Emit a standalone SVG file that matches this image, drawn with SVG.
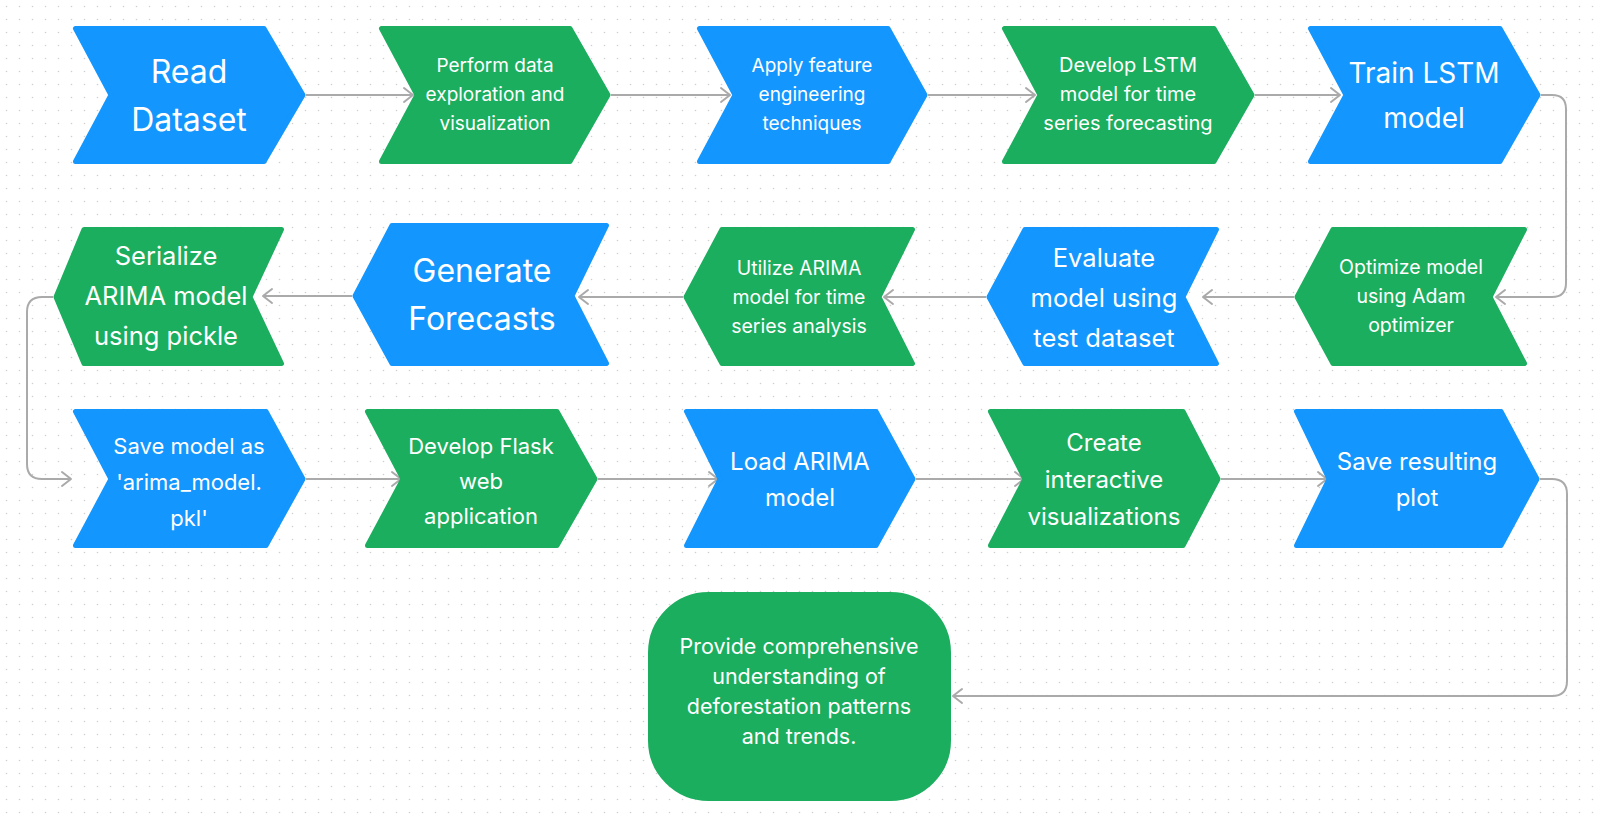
<svg xmlns="http://www.w3.org/2000/svg" width="1600" height="814" viewBox="0 0 1600 814">
<defs>
<pattern id="dots" width="13" height="13" patternUnits="userSpaceOnUse">
<circle cx="6.5" cy="6.5" r="0.8" fill="#cfcfcf"/>
</pattern>
<marker id="arr" markerUnits="userSpaceOnUse" markerWidth="14" markerHeight="18" refX="11" refY="9" orient="auto">
<path d="M2,2 L11,9 L2,16" fill="none" stroke="#aaaaaa" stroke-width="2" stroke-linecap="round" stroke-linejoin="round"/>
</marker>
<style>
.blue{fill:#1396fd;stroke:#1396fd;stroke-width:5;stroke-linejoin:round}
.green{fill:#1bae5e;stroke:#1bae5e;stroke-width:5;stroke-linejoin:round}
text{font-family:Inter,"Noto Sans","Liberation Sans",sans-serif;fill:#ffffff;text-anchor:middle}
.s19{font-size:19px}
.s195{font-size:19.5px}
.s20{font-size:20px}
.s21{font-size:21.5px}
.s22{font-size:22px}
.s24{font-size:24px}
.s25{font-size:25.5px}
.s28{font-size:28px}
.s32{font-size:32px}
.conn path{fill:none;stroke:#aaaaaa;stroke-width:2;marker-end:url(#arr)}
</style>
</defs>
<rect width="1600" height="814" fill="#ffffff"/>
<rect width="1600" height="814" fill="url(#dots)"/>

<g id="connectors" class="conn">
<path d="M306,95 H413"/>
<path d="M611,95 H730"/>
<path d="M928,95 H1035"/>
<path d="M1255,95 H1340"/>
<path d="M1541,95 H1552 Q1566,95 1566,109 V283 Q1566,297 1552,297 H1496"/>
<path d="M1294,297 H1203"/>
<path d="M986,297 H884"/>
<path d="M683,297 H579"/>
<path d="M352,296 H263"/>
<path d="M53,297 H42 Q27,297 27,312 V464 Q27,479 42,479 H71"/>
<path d="M306,479 H401"/>
<path d="M598,479 H718"/>
<path d="M916,479 H1024"/>
<path d="M1221,479 H1327"/>
<path d="M1540,479 H1552 Q1567,479 1567,494 V681 Q1567,696 1552,696 H953"/>
</g>

<g id="n1">
<path class="blue" d="M75.5,28.5 H264 L303,95 L264,161.5 H75.5 L111,95 Z"/>
<text class="s32"><tspan x="189" y="83">Read</tspan><tspan x="189" y="131">Dataset</tspan></text>
</g>
<g id="n2">
<path class="green" d="M381.5,28.5 H570 L608,95 L570,161.5 H381.5 L417,95 Z"/>
<text class="s19"><tspan x="495" y="72">Perform data</tspan><tspan x="495" y="101">exploration and</tspan><tspan x="495" y="130">visualization</tspan></text>
</g>
<g id="n3">
<path class="blue" d="M699.5,28.5 H888 L925,95 L888,161.5 H699.5 L735,95 Z"/>
<text class="s19"><tspan x="812" y="72">Apply feature</tspan><tspan x="812" y="101">engineering</tspan><tspan x="812" y="130">techniques</tspan></text>
</g>
<g id="n4">
<path class="green" d="M1004.5,28.5 H1214 L1252,95 L1214,161.5 H1004.5 L1040,95 Z"/>
<text class="s20"><tspan x="1128" y="72">Develop LSTM</tspan><tspan x="1128" y="101">model for time</tspan><tspan x="1128" y="130">series forecasting</tspan></text>
</g>
<g id="n5">
<path class="blue" d="M1310.5,28.5 H1500 L1538,95 L1500,161.5 H1310.5 L1346,95 Z"/>
<text class="s28"><tspan x="1424" y="83">Train LSTM</tspan><tspan x="1424" y="128">model</tspan></text>
</g>

<g id="n6">
<path class="green" d="M1297,297 L1333,229.5 H1524.5 L1490,297 L1524.5,363.5 H1333 Z"/>
<text class="s195"><tspan x="1411" y="274">Optimize model</tspan><tspan x="1411" y="303">using Adam</tspan><tspan x="1411" y="332">optimizer</tspan></text>
</g>
<g id="n7">
<path class="blue" d="M989,297 L1025,229.5 H1216.5 L1183,297 L1216.5,363.5 H1025 Z"/>
<text class="s25"><tspan x="1104" y="267">Evaluate</tspan><tspan x="1104" y="307">model using</tspan><tspan x="1104" y="347">test dataset</tspan></text>
</g>
<g id="n8">
<path class="green" d="M686,297 L722,229.5 H912.5 L879,297 L912.5,363.5 H722 Z"/>
<text class="s195"><tspan x="799" y="275">Utilize ARIMA</tspan><tspan x="799" y="304">model for time</tspan><tspan x="799" y="333">series analysis</tspan></text>
</g>
<g id="n9">
<path class="blue" d="M355,296 L392,225.5 H606.5 L572,296 L606.5,363.5 H392 Z"/>
<text class="s32"><tspan x="482" y="282">Generate</tspan><tspan x="482" y="330">Forecasts</tspan></text>
</g>
<g id="n10">
<path class="green" d="M56,297 L84,229.5 H281.5 L250,297 L281.5,363.5 H84 Z"/>
<text class="s25"><tspan x="166" y="265">Serialize</tspan><tspan x="166" y="305">ARIMA model</tspan><tspan x="166" y="345">using pickle</tspan></text>
</g>

<g id="n11">
<path class="blue" d="M75.5,411.5 H266 L303,479 L266,545.5 H75.5 L111,479 Z"/>
<text class="s22"><tspan x="189" y="454">Save model as</tspan><tspan x="189" y="490">'arima_model.</tspan><tspan x="189" y="526">pkl'</tspan></text>
</g>
<g id="n12">
<path class="green" d="M367.5,411.5 H557 L595,479 L557,545.5 H367.5 L403,479 Z"/>
<text class="s22"><tspan x="481" y="454">Develop Flask</tspan><tspan x="481" y="489">web</tspan><tspan x="481" y="524">application</tspan></text>
</g>
<g id="n13">
<path class="blue" d="M686.5,411.5 H876 L913,479 L876,545.5 H686.5 L720,479 Z"/>
<text class="s24"><tspan x="800" y="470">Load ARIMA</tspan><tspan x="800" y="506">model</tspan></text>
</g>
<g id="n14">
<path class="green" d="M990.5,411.5 H1183 L1218,479 L1183,545.5 H990.5 L1025,479 Z"/>
<text class="s24"><tspan x="1104" y="451">Create</tspan><tspan x="1104" y="488">interactive</tspan><tspan x="1104" y="525">visualizations</tspan></text>
</g>
<g id="n15">
<path class="blue" d="M1296.5,411.5 H1501 L1537,479 L1501,545.5 H1296.5 L1329,479 Z"/>
<text class="s24"><tspan x="1417" y="470">Save resulting</tspan><tspan x="1417" y="506">plot</tspan></text>
</g>
<g id="n16">
<rect class="green" x="650.5" y="594.5" width="298" height="204" rx="58" ry="58"/>
<text class="s21"><tspan x="799" y="654">Provide comprehensive</tspan><tspan x="799" y="684">understanding of</tspan><tspan x="799" y="714">deforestation patterns</tspan><tspan x="799" y="744">and trends.</tspan></text>
</g>
</svg>
